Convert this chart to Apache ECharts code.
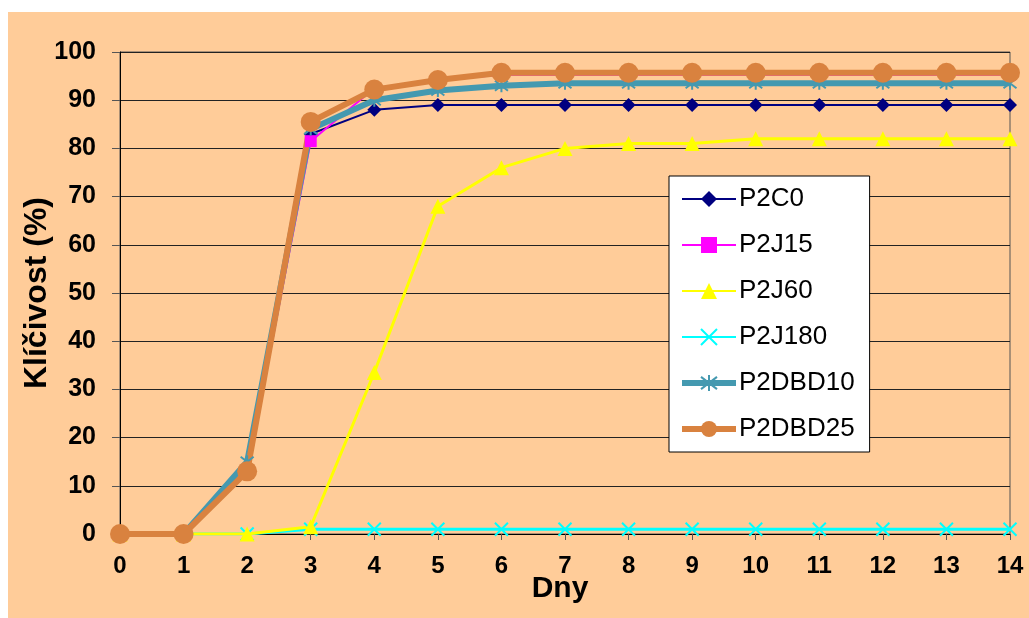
<!DOCTYPE html>
<html><head><meta charset="utf-8">
<script src="https://cdn.jsdelivr.net/npm/echarts@6/dist/echarts.min.js"></script>
<style>html,body{margin:0;padding:0;background:#fff}#c{width:1029px;height:618px}</style>
</head><body><div id="c"></div>
<script>
const days = ['0','1','2','3','4','5','6','7','8','9','10','11','12','13','14'];
const yTicks = [0,10,20,30,40,50,60,70,80,90,100];
const P2C0    = [0,0,13,83,88,89,89,89,89,89,89,89,89,89,89];
const P2J15   = [0,0,13,81.5,92.5,94.2,95.3,95.3,95.3,95.3,95.3,95.3,95.3,95.3,95.3];
const P2J60   = [0,0,0,1.5,33.5,68,76,80,81,81,82,82,82,82,82];
const P2J180  = [0,0,0,1,1,1,1,1,1,1,1,1,1,1,1];
const P2DBD10 = [0,0,15,84,90,92,93,93.5,93.5,93.5,93.5,93.5,93.5,93.5,93.5];
const P2DBD25 = [0,0,13,85.5,92.2,94.2,95.7,95.7,95.7,95.7,95.7,95.7,95.7,95.7,95.7];

const FONT = '"Liberation Sans", Arial, sans-serif';
const chart = echarts.init(document.getElementById('c'), null, {renderer:'canvas'});
const xPath = 'path://M0,0L10,10M10,0L0,10';
const starPath = 'path://M0,0L10,10M10,0L0,10M5,-1.5L5,11.5';
function ser(name, data, color, width, symbol, size, strokeOnly){
  return {
    name, type:'line', data, symbol, symbolSize:size, showSymbol:true,
    lineStyle:{color, width},
    itemStyle: strokeOnly ? {color:color, borderColor:color, borderWidth:2} : {color:color, borderWidth:0},
    emphasis:{disabled:true}, animation:false, z: 2
  };
}
chart.setOption({
  backgroundColor:'#ffffff',
  animation:false,
  graphic:[{type:'rect', shape:{x:8,y:12,width:1021,height:606}, style:{fill:'#FFCC99'}, z:-10, silent:true}],
  grid:{left:120,right:19,top:52,bottom:84,show:true,borderColor:'#555',borderWidth:1,backgroundColor:'transparent'},
  legend:{
    orient:'vertical', left:669, top:176,
    backgroundColor:'#ffffff', borderColor:'#000', borderWidth:1,
    padding:[10,15,10,10], itemGap:20, itemWidth:54, itemHeight:20,
    textStyle:{fontFamily:FONT, fontSize:26, lineHeight:26, color:'#000', padding:[0,0,0,-2]},
    data:[
      {name:'P2C0'},
      {name:'P2J15'},
      {name:'P2J60'},
      {name:'P2J180'},
      {name:'P2DBD10', lineStyle:{width:6}},
      {name:'P2DBD25', lineStyle:{width:6}}
    ]
  },
  xAxis:{
    type:'category', data:days, boundaryGap:false,
    name:'Dny', nameLocation:'middle', nameGap:40, nameMoveOverlap:false,
    nameTextStyle:{fontFamily:FONT, fontSize:30, fontWeight:'bold', color:'#000', padding:[0,10,0,0]},
    axisLine:{lineStyle:{color:'#000',width:1}},
    axisTick:{show:true, alignWithLabel:true, length:6, lineStyle:{color:'#555'}},
    axisLabel:{fontFamily:FONT, fontSize:24, fontWeight:'bold', color:'#000', margin:20},
    splitLine:{show:false}
  },
  yAxis:{
    type:'value', min:0, max:100, interval:10,
    name:'Klíčivost (%)', nameLocation:'middle', nameGap:67, nameMoveOverlap:false,
    nameTextStyle:{fontFamily:FONT, fontSize:32, fontWeight:'bold', color:'#000'},
    axisLine:{show:true, lineStyle:{color:'#000',width:1}},
    axisTick:{show:true, length:8, inside:false, lineStyle:{color:'#555'}},
    axisLabel:{fontFamily:FONT, fontSize:25, fontWeight:'bold', color:'#000', margin:24},
    splitLine:{show:true, lineStyle:{color:'#222', width:1}}
  },
  series:[
    ser('P2J180', P2J180, '#00FFFF', 3, xPath, 13, true),
    ser('P2J60', P2J60, '#FFFF00', 3, 'triangle', 15, false),
    ser('P2C0', P2C0, '#000080', 2, 'diamond', 14, false),
    ser('P2J15', P2J15, '#FF00FF', 2, 'rect', 12, false),
    ser('P2DBD10', P2DBD10, '#4499B0', 6, starPath, 13, true),
    ser('P2DBD25', P2DBD25, '#D9823F', 6, 'circle', 20, false)
  ]
});
</script></body></html>
